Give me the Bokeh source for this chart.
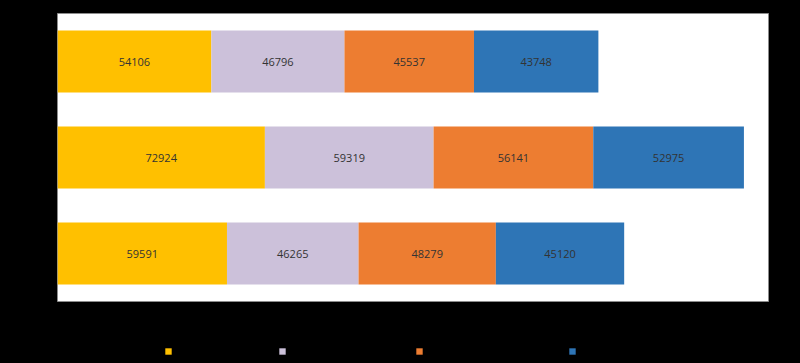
from bokeh.plotting import figure
from bokeh.layouts import column
from bokeh.models import ColumnDataSource, FactorRange, Range1d, Legend, LegendItem, FixedTicker
from bokeh.core.properties import value
from bokeh.embed import file_html
from bokeh.resources import INLINE
import numpy as np

categories = ["Group 3", "Group 2", "Group 1"]  # bottom to top
series_names = ["Full-time employees", "Part-time worker (hourly)", "Contractor and temp worker", "Apprentices"]
s1 = [59591, 72924, 54106]
s2 = [46265, 59319, 46796]
s3 = [48279, 56141, 45537]
s4 = [45120, 52975, 43748]
colors = ["#FFC000", "#CCC1DA", "#ED7D31", "#2E75B6"]
x_ticks = [0, 50000, 100000, 150000, 200000, 250000]

series = [s1, s2, s3, s4]
keys = ["s1", "s2", "s3", "s4"]
TXT = "black"

p = figure(width=800, height=330, y_range=FactorRange(factors=categories, range_padding=0),
           x_range=Range1d(0, 250000), output_backend="svg", toolbar_location=None,
           background_fill_color="white", border_fill_color="black",
           outline_line_color="#8c8c8c", outline_line_width=1,
           min_border_left=57, min_border_right=32, min_border_top=13, min_border_bottom=29)

data = {"cat": categories}
for k, s in zip(keys, series):
    data[k] = s
src = ColumnDataSource(data)
p.hbar_stack(keys, y="cat", height=0.645, color=colors, source=src, line_color=None)

cum = np.zeros(len(categories))
for s in series:
    arr = np.array(s, dtype=float)
    centers = cum + arr / 2
    p.text(x=list(centers), y=categories, text=[str(v) for v in s],
           text_align="center", text_baseline="middle", text_color="#333333",
           text_font=value("Open Sans"), text_font_size="11px")
    cum = cum + arr

p.xgrid.grid_line_color = None
p.ygrid.grid_line_color = None
p.xaxis.ticker = FixedTicker(ticks=x_ticks)
for ax in (p.xaxis[0], p.yaxis[0]):
    ax.axis_line_color = None
    ax.major_tick_line_color = None
    ax.minor_tick_line_color = None
    ax.major_tick_out = 0
    ax.major_label_text_color = TXT
    ax.major_label_text_font = "Open Sans"
    ax.major_label_text_font_size = "10px"
p.xaxis.formatter.use_scientific = False

# legend strip below the chart (its renderers are hidden; only the legend shows)
lg = figure(width=800, height=33, output_backend="svg", toolbar_location=None,
            y_range=FactorRange(factors=categories), x_range=Range1d(0, 250000),
            background_fill_color="black", border_fill_color="black", outline_line_color=None,
            min_border_left=0, min_border_right=0, min_border_top=0, min_border_bottom=0)
lg.axis.visible = False
lg.grid.visible = False
lg_renderers = lg.hbar_stack(keys, y="cat", height=0.5, color=colors, source=src,
                             line_color=None)
for r in lg_renderers:
    r.visible = False
items = [LegendItem(label=n, renderers=[r]) for n, r in zip(series_names, lg_renderers)]
legend = Legend(items=items, orientation="horizontal", location=(107, 5),
                background_fill_color="black", background_fill_alpha=0, border_line_color=None,
                inactive_fill_alpha=0,
                label_text_color=TXT, label_text_font="Open Sans", label_text_font_size="10px",
                glyph_width=8, glyph_height=8, label_standoff=5, spacing=7,
                margin=0, padding=0, label_height=10, label_width=0)
lg.add_layout(legend, "center")

layout = column(p, lg, spacing=0)
html = file_html(layout, INLINE).replace("<body>", '<body style="background:#000000">')
open("out.html", "w").write(html)
